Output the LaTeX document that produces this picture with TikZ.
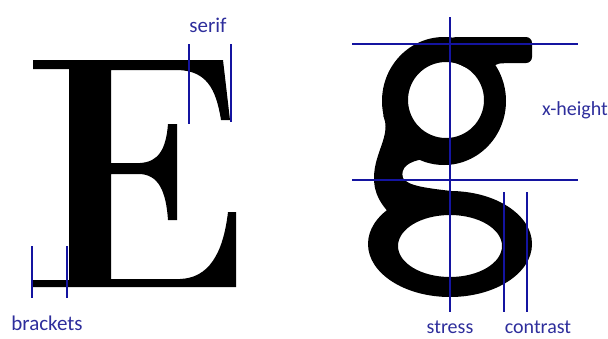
\documentclass[tikz,border=0pt]{standalone}
\usepackage{fontspec}
\setmainfont{Carlito}
\usetikzlibrary{positioning}
\definecolor{typo-line}{HTML}{1414A0}
\definecolor{typo-label}{HTML}{2E2E9C}
\tikzset{
  typolabel/.style={text=typo-label, font=\fontsize{20}{22}\selectfont, inner sep=0pt, anchor=base},
  markline/.style={typo-line, line width=1.6pt}
}

\begin{document}
\begin{tikzpicture}[x=1pt, y=-1pt, line join=round]
  \useasboundingbox (0,0) rectangle (608,338);
  % bogstavet E
  \fill[black] (33,60) -- (223,60) -- (230,120) -- (221,120)
    .. controls (216,88) and (206,71) .. (178,70) -- (111,70) -- (111,163) -- (140,163)
    .. controls (158,162) and (166,150) .. (168,124) -- (177,124) -- (177,220) -- (168,220)
    .. controls (166,190) and (158,175) .. (140,174) -- (111,174) -- (111,279) -- (180,279)
    .. controls (208,278) and (223,255) .. (228,212) -- (236,212) -- (236,287) -- (33,287)
    -- (33,280) -- (69,280) -- (69,69) -- (33,69) -- cycle;
  % bogstavet g
  \fill[black, even odd rule] (444,101) ellipse [x radius=62, y radius=64]
    (446,100) ellipse [x radius=38, y radius=38];
  \fill[black, even odd rule] (450,244) ellipse [x radius=82, y radius=53]
    (450,246) ellipse [x radius=52, y radius=31];
  \fill[black, rounded corners=6pt] (450,37) -- (532,37) -- (532,63) -- (505,63)
    .. controls (495,64) and (490,70) .. (488,78) -- (450,60) -- cycle;
  \fill[black] (383,115) .. controls (392,135) and (374,152) .. (374,178)
    .. controls (374,195) and (382,205) .. (390,214)
    -- (420,212) -- (460,192) .. controls (425,188) and (408,186) .. (403,178)
    .. controls (400,168) and (408,161) .. (425,159) -- cycle;
  % linjer
  \draw[markline] (189,44) -- (189,124);
  \draw[markline] (231,44) -- (231,122);
  \draw[markline] (32,246) -- (32,298);
  \draw[markline] (67,246) -- (67,298);
  \draw[markline] (352,44) -- (578,44);
  \draw[markline] (352,180) -- (578,180);
  \draw[markline] (450,17) -- (450,312);
  \draw[markline] (504,192) -- (504,312);
  \draw[markline] (527,192) -- (527,312);
  % tekster
  \node[typolabel, font=\fontsize{21}{23}\selectfont] (serif) at (208,32) {serif};
  \node[typolabel, font=\fontsize{21}{23}\selectfont] (brackets) at (47,330) {brackets};
  \node[typolabel] (stress) at (450,333) {stress};
  \node[typolabel] (contrast) at (538,333) {contrast};
  \node[typolabel, anchor=base west] (xheight) at (542,115) {x-height};
\end{tikzpicture}
\end{document}
